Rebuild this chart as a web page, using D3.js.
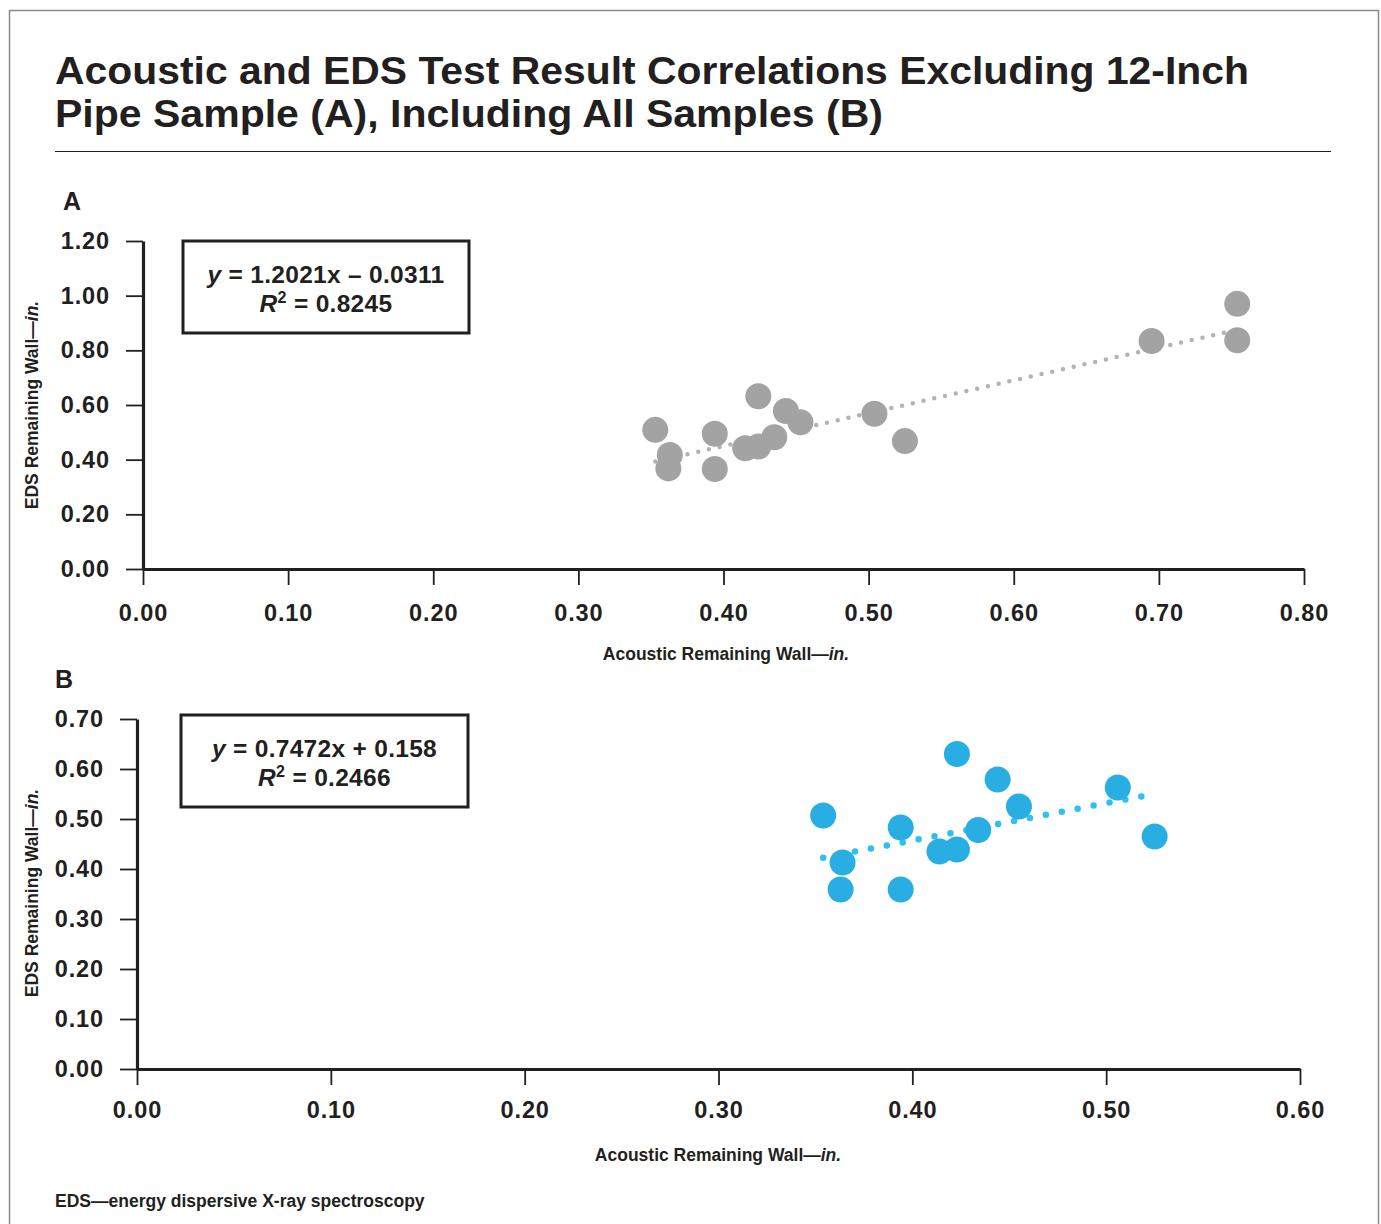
<!DOCTYPE html>
<html>
<head>
<meta charset="utf-8">
<script src="https://cdn.jsdelivr.net/npm/d3@7"></script>
<style>
  html, body { margin: 0; padding: 0; background: #fff; }
  svg { display: block; }
  text { font-family: "Liberation Sans", Arial, sans-serif; fill: #231f20; }
</style>
</head>
<body>
<svg id="chart" width="1381" height="1224"></svg>
<script>
// ---- Data ----
const titleLines = ["Acoustic and EDS Test Result Correlations Excluding 12-Inch",
                    "Pipe Sample (A), Including All Samples (B)"];

// Panel A
const panelA_x = [0.353, 0.363, 0.362, 0.394, 0.394, 0.415, 0.424, 0.435, 0.424, 0.443, 0.453, 0.504, 0.525, 0.695, 0.754, 0.754];
const panelA_y = [0.509, 0.417, 0.368, 0.495, 0.366, 0.442, 0.448, 0.482, 0.632, 0.578, 0.537, 0.568, 0.468, 0.834, 0.970, 0.837];
const panelA_xTicks = [0.0, 0.1, 0.2, 0.3, 0.4, 0.5, 0.6, 0.7, 0.8];
const panelA_yTicks = [0.0, 0.2, 0.4, 0.6, 0.8, 1.0, 1.2];
const panelA_trend = [1.2021, -0.0311];
const panelA_eq = ["y", " = 1.2021x \u2013 0.0311", "R", "2", " = 0.8245"];

// Panel B
const panelB_x = [0.354, 0.364, 0.363, 0.394, 0.394, 0.414, 0.423, 0.423, 0.444, 0.434, 0.455, 0.506, 0.525];
const panelB_y = [0.507, 0.413, 0.359, 0.483, 0.359, 0.435, 0.439, 0.630, 0.579, 0.478, 0.525, 0.563, 0.465];
const panelB_xTicks = [0.0, 0.1, 0.2, 0.3, 0.4, 0.5, 0.6];
const panelB_yTicks = [0.0, 0.1, 0.2, 0.3, 0.4, 0.5, 0.6, 0.7];
const panelB_trend = [0.7472, 0.158];
const panelB_eq = ["y", " = 0.7472x + 0.158", "R", "2", " = 0.2466"];

const xTitle = ["Acoustic Remaining Wall\u2014", "in."];
const yTitle = ["EDS Remaining Wall\u2014", "in."];
const footnote = "EDS\u2014energy dispersive X-ray spectroscopy";

// ---- Drawing ----
const svg = d3.select("#chart");
const ink = "#231f20";

// outer frame
svg.append("rect").attr("x", 9.5).attr("y", 10.5).attr("width", 1369).attr("height", 1230)
  .attr("fill", "none").attr("stroke", "#8a8a8a").attr("stroke-width", 1.5);

// title
titleLines.forEach((t, i) => {
  svg.append("text").attr("x", 55).attr("y", 84 + i * 43)
    .attr("font-size", 39).attr("font-weight", "bold")
    .attr("textLength", i === 0 ? 1194 : 828).attr("lengthAdjust", "spacingAndGlyphs")
    .text(t);
});
svg.append("line").attr("x1", 55).attr("x2", 1331).attr("y1", 151.5).attr("y2", 151.5)
  .attr("stroke", ink).attr("stroke-width", 1.2);

function drawPanel(cfg) {
  const x = d3.scaleLinear().domain(cfg.xDomain).range(cfg.xRange);
  const y = d3.scaleLinear().domain(cfg.yDomain).range(cfg.yRange);
  const g = svg.append("g");

  // panel letter
  g.append("text").attr("x", cfg.letterPos[0]).attr("y", cfg.letterPos[1])
    .attr("font-size", 25).attr("font-weight", "bold").text(cfg.letter);

  // axes
  const yAxis = d3.axisLeft(y).tickValues(cfg.yTicks).tickFormat(d3.format(".2f"))
    .tickSize(17).tickSizeOuter(0).tickPadding(16);
  const xAxis = d3.axisBottom(x).tickValues(cfg.xTicks).tickFormat(d3.format(".2f"))
    .tickSize(16).tickSizeOuter(0).tickPadding(cfg.xPad);

  const gy = g.append("g").attr("transform", `translate(${cfg.xRange[0]},0)`).call(yAxis);
  const gx = g.append("g").attr("transform", `translate(0,${cfg.yRange[0]})`).call(xAxis);
  [gx, gy].forEach(a => {
    a.select(".domain").attr("stroke", ink).attr("stroke-width", 3.2);
    a.selectAll(".tick line").attr("stroke", ink).attr("stroke-width", 1.8);
    a.selectAll(".tick text").attr("fill", ink).attr("font-size", 23.5).attr("font-weight", "bold")
      .attr("letter-spacing", 0.9)
      .attr("font-family", "'Liberation Sans', Arial, sans-serif");
  });

  // axis titles
  const xt = g.append("text").attr("x", cfg.xTitlePos[0]).attr("y", cfg.xTitlePos[1])
    .attr("text-anchor", "middle").attr("font-size", 17.5).attr("font-weight", "bold");
  xt.append("tspan").text(xTitle[0]);
  xt.append("tspan").attr("font-style", "italic").text(xTitle[1]);

  const yt = g.append("text")
    .attr("transform", `translate(${cfg.yTitlePos[0]},${cfg.yTitlePos[1]}) rotate(-90)`)
    .attr("text-anchor", "middle").attr("font-size", 17.5).attr("font-weight", "bold");
  yt.append("tspan").text(yTitle[0]);
  yt.append("tspan").attr("font-style", "italic").text(yTitle[1]);

  // trend line (dotted)
  const xs = cfg.xs, ys = cfg.ys;
  const x0 = d3.min(xs), x1 = d3.max(xs);
  const f = v => cfg.trend[0] * v + cfg.trend[1];
  g.append("line")
    .attr("x1", x(x0)).attr("y1", y(f(x0)))
    .attr("x2", x(x1)).attr("y2", y(f(x1)))
    .attr("stroke", cfg.trendColor).attr("stroke-width", cfg.dotW)
    .attr("stroke-linecap", "round").attr("stroke-dasharray", `0 ${cfg.dotGap}`);

  // points
  g.append("g").selectAll("circle").data(xs.map((v, i) => [v, ys[i]])).join("circle")
    .attr("cx", d => x(d[0])).attr("cy", d => y(d[1])).attr("r", 13)
    .attr("fill", cfg.pointColor);

  // equation box
  const b = cfg.box;
  g.append("rect").attr("x", b[0]).attr("y", b[1]).attr("width", b[2]).attr("height", b[3])
    .attr("fill", "#fff").attr("stroke", ink).attr("stroke-width", 3);
  const cx = b[0] + b[2] / 2;
  const e1 = g.append("text").attr("x", cx).attr("y", b[1] + 42).attr("text-anchor", "middle")
    .attr("font-size", 24.5).attr("font-weight", "bold").attr("letter-spacing", 0.3);
  e1.append("tspan").attr("font-style", "italic").text(cfg.eq[0]);
  e1.append("tspan").text(cfg.eq[1]);
  const e2 = g.append("text").attr("x", cx).attr("y", b[1] + 71).attr("text-anchor", "middle")
    .attr("font-size", 24.5).attr("font-weight", "bold").attr("letter-spacing", 0.3);
  e2.append("tspan").attr("font-style", "italic").text(cfg.eq[2]);
  e2.append("tspan").attr("font-size", 16).attr("dy", -9).text(cfg.eq[3]);
  e2.append("tspan").attr("dy", 9).text(cfg.eq[4]);
}

drawPanel({
  letter: "A", letterPos: [63, 210],
  xs: panelA_x, ys: panelA_y,
  xDomain: [0, 0.8], xRange: [143, 1304],
  yDomain: [0, 1.2], yRange: [569, 241],
  xTicks: panelA_xTicks, yTicks: panelA_yTicks, xPad: 19,
  trend: panelA_trend, eq: panelA_eq,
  pointColor: "#a3a3a3", trendColor: "#b3b3b3", dotW: 4.5, dotGap: 11,
  xTitlePos: [726, 660], yTitlePos: [38, 405],
  box: [183, 241, 286, 92]
});

drawPanel({
  letter: "B", letterPos: [55, 688],
  xs: panelB_x, ys: panelB_y,
  xDomain: [0, 0.6], xRange: [137, 1300],
  yDomain: [0, 0.7], yRange: [1069, 719],
  xTicks: panelB_xTicks, yTicks: panelB_yTicks, xPad: 16,
  trend: panelB_trend, eq: panelB_eq,
  pointColor: "#29aee3", trendColor: "#2fc0ef", dotW: 6.5, dotGap: 16.2,
  xTitlePos: [718, 1161], yTitlePos: [38, 893],
  box: [181, 715, 287, 92]
});

svg.append("text").attr("x", 55).attr("y", 1207).attr("font-size", 17.5).attr("font-weight", "bold")
  .text(footnote);
</script>
</body>
</html>
